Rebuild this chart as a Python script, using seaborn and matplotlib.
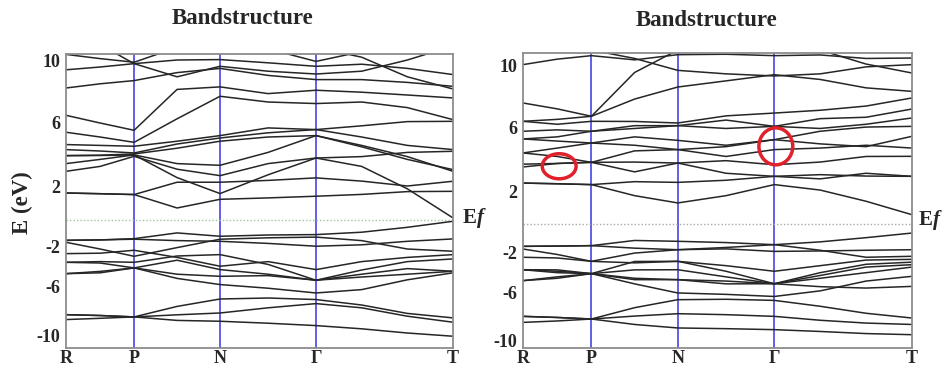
import pandas as pd
import matplotlib
matplotlib.use('Agg')
import matplotlib.pyplot as plt
import seaborn as sns
from matplotlib.patches import Ellipse

# high-symmetry path
k_labels = ['R', 'P', 'N', 'Γ', 'T']
k_nodes = [0.0, 0.176, 0.398, 0.646, 1.0]
k_samples = [0.0, 0.088, 0.176, 0.287, 0.398, 0.522, 0.646, 0.764, 0.882, 1.0]

tick_labels = ['10', '6', '2', '-2', '-6', '-10']
left_ticks = [11.36, 6.95, 2.33, -1.90, -4.76, -8.29]
right_ticks = [11.31, 6.88, 2.31, -2.05, -4.95, -8.33]

# band energies (eV, Ef = 0) read at k_samples
left_cond = [
    [11.80, 11.50, 11.24, 12.30, 12.60, 12.20, 11.30, 12.00, 12.60, 12.90],
    [10.70, 10.90, 11.14, 11.40, 11.43, 11.20, 10.95, 11.10, 10.80, 10.36],
    [9.40, 9.70, 9.93, 10.50, 10.80, 10.30, 10.00, 10.00, 9.80, 9.52],
    [12.60, 12.60, 12.50, 12.60, 12.40, 12.20, 12.30, 11.60, 10.20, 9.33],
    [12.60, 12.50, 11.14, 10.20, 10.95, 10.60, 10.40, 10.60, 11.40, 12.40],
    [7.45, 6.90, 6.38, 9.30, 9.48, 9.00, 9.24, 9.10, 8.90, 8.69],
    [6.24, 5.90, 5.52, 7.20, 8.81, 8.40, 8.29, 8.40, 8.00, 7.14],
    [5.36, 5.30, 5.24, 5.60, 6.00, 6.55, 6.43, 6.70, 7.00, 7.02],
    [5.00, 4.90, 4.76, 5.40, 5.83, 6.20, 6.43, 5.90, 5.30, 5.00],
    [4.57, 4.60, 4.69, 5.10, 5.60, 5.90, 6.00, 5.20, 4.30, 3.57],
    [4.00, 4.30, 4.62, 4.00, 3.88, 4.80, 6.00, 5.30, 4.50, 3.45],
    [3.45, 3.80, 4.52, 3.60, 3.14, 4.00, 4.40, 4.50, 4.80, 4.88],
    [1.90, 1.85, 1.79, 2.67, 2.67, 2.80, 2.98, 2.75, 2.40, 2.74],
    [1.90, 1.85, 1.79, 0.83, 1.45, 1.55, 1.67, 1.80, 2.00, 2.02],
    [4.57, 4.58, 4.62, 3.00, 1.86, 3.20, 4.40, 3.80, 2.20, 0.12],
]
left_val = [
    [-1.48, -1.45, -1.36, -0.95, -1.19, -1.10, -1.07, -0.90, -0.55, -0.12],
    [-1.48, -1.45, -1.40, -1.50, -1.55, -1.70, -1.90, -1.80, -1.55, -1.38],
    [-1.62, -2.10, -2.62, -2.00, -1.40, -1.30, -1.25, -1.50, -2.10, -2.26],
    [-2.43, -2.40, -2.19, -2.70, -3.33, -3.00, -3.57, -3.00, -2.70, -2.50],
    [-3.05, -3.00, -3.05, -2.60, -2.50, -3.20, -4.33, -3.60, -3.00, -2.81],
    [-3.05, -3.10, -3.45, -2.90, -3.57, -3.90, -4.33, -3.90, -3.50, -3.69],
    [-3.86, -3.70, -3.45, -3.90, -4.05, -4.00, -4.33, -4.10, -3.90, -3.69],
    [-3.86, -3.80, -3.45, -4.20, -4.64, -4.90, -5.24, -5.00, -4.30, -3.80],
    [-6.79, -6.85, -6.95, -6.20, -5.67, -5.60, -5.71, -6.10, -6.70, -7.02],
    [-6.79, -6.85, -6.95, -6.80, -6.67, -6.30, -6.00, -6.30, -6.90, -7.33],
    [-7.14, -7.05, -6.95, -7.20, -7.26, -7.40, -7.57, -7.80, -8.10, -8.33],
]
right_cond = [
    [11.36, 11.75, 12.00, 11.70, 12.07, 12.10, 12.00, 12.05, 11.80, 11.83],
    [12.50, 12.50, 12.40, 11.80, 10.95, 10.70, 10.55, 10.70, 11.20, 11.36],
    [8.62, 8.20, 7.67, 8.90, 9.76, 10.20, 10.64, 10.30, 9.70, 9.45],
    [7.31, 7.45, 7.67, 10.80, 12.40, 12.50, 12.50, 12.40, 11.40, 10.76],
    [7.31, 7.10, 7.31, 7.30, 7.19, 7.70, 7.90, 8.10, 8.40, 8.98],
    [6.60, 6.70, 6.60, 7.00, 7.00, 7.40, 6.95, 7.50, 7.60, 8.19],
    [6.05, 6.20, 6.60, 6.80, 7.00, 6.80, 6.95, 6.80, 7.10, 7.55],
    [5.05, 5.40, 5.76, 6.20, 5.95, 5.60, 6.00, 6.60, 6.90, 6.95],
    [6.05, 5.90, 5.76, 5.60, 5.29, 5.50, 6.00, 5.70, 5.50, 6.24],
    [4.05, 4.30, 4.38, 5.20, 5.29, 4.80, 5.29, 5.40, 5.60, 5.40],
    [4.25, 4.30, 4.38, 4.40, 4.33, 4.50, 4.21, 4.40, 4.80, 4.81],
    [5.05, 4.80, 4.38, 3.70, 4.33, 3.60, 3.38, 3.20, 3.60, 3.38],
    [2.90, 2.85, 2.79, 3.00, 2.95, 3.10, 3.38, 3.50, 3.40, 3.38],
    [2.90, 2.85, 2.79, 2.00, 1.48, 2.00, 2.79, 2.40, 1.60, 0.64],
]
right_val = [
    [-1.62, -1.60, -1.57, -1.20, -1.26, -1.35, -1.50, -1.30, -1.00, -0.67],
    [-1.62, -1.60, -1.57, -1.75, -1.86, -1.80, -1.98, -1.95, -1.90, -1.86],
    [-1.81, -2.20, -2.69, -2.10, -1.86, -1.70, -1.50, -1.90, -2.40, -2.33],
    [-2.40, -2.45, -2.69, -2.80, -2.69, -3.00, -3.40, -3.00, -2.60, -2.55],
    [-3.29, -3.30, -3.57, -2.70, -2.69, -3.40, -4.29, -3.50, -2.90, -2.75],
    [-3.29, -3.40, -3.57, -3.30, -3.29, -3.80, -4.29, -3.70, -3.10, -2.93],
    [-4.07, -3.80, -3.57, -3.90, -4.00, -4.10, -4.29, -3.90, -3.50, -3.10],
    [-4.07, -3.90, -3.57, -4.30, -4.95, -5.05, -5.20, -4.80, -4.10, -3.76],
    [-3.29, -3.50, -3.57, -4.00, -4.00, -4.30, -4.29, -4.50, -4.60, -4.48],
    [-6.62, -6.70, -6.81, -6.00, -5.43, -5.40, -5.48, -5.90, -6.40, -6.74],
    [-6.62, -6.70, -6.81, -6.60, -6.43, -6.50, -6.62, -6.90, -7.10, -7.20],
    [-7.05, -6.95, -6.81, -7.20, -7.45, -7.50, -7.57, -7.70, -7.85, -7.93],
]

# red marks on the right panel
ell_x = [0.093, 0.650]
ell_y = [4.10, 5.52]
ell_w = [0.087, 0.087]
ell_h = [1.79, 2.64]


def to_frame(bands):
    rows = []
    for i, b in enumerate(bands):
        for k, e in zip(k_samples, b):
            rows.append((i, k, e))
    return pd.DataFrame(rows, columns=['band', 'k', 'E'])


sns.set_style('white')
plt.rcParams['font.family'] = ['Liberation Serif', 'DejaVu Serif']
plt.rcParams['font.weight'] = 'bold'

fig = plt.figure(figsize=(9.43, 3.66), dpi=100)
ax1 = fig.add_axes([0.0700, 0.0492, 0.4104, 0.8033])
ax2 = fig.add_axes([0.5546, 0.0492, 0.4125, 0.8060])


def panel(ax, bands, ticks, ylim, ef_color):
    df = to_frame(bands)
    for x in k_nodes[1:-1]:
        ax.axvline(x, color='#4646e6', lw=1.2, zorder=1)
    ax.axhline(0, color=ef_color, lw=1.0, ls=(0, (1, 1.5)), zorder=1)
    sns.lineplot(data=df, x='k', y='E', units='band', estimator=None, sort=False,
                 color='#262626', linewidth=1.1, ax=ax, legend=False, zorder=2)
    ax.set_xlim(0, 1)
    ax.set_ylim(*ylim)
    ax.set_xlabel('')
    ax.set_ylabel('')
    ax.set_xticks(k_nodes)
    ax.set_xticklabels(k_labels, fontsize=13, fontweight='bold')
    ax.set_yticks(ticks)
    ax.set_yticklabels(tick_labels, fontsize=13, fontweight='bold')
    ax.tick_params(axis='y', direction='in', length=3, color='#b0b0b0', pad=4)
    ax.tick_params(axis='x', length=0, pad=1.5)
    for s in ax.spines.values():
        s.set_color('#8c8c8c')
        s.set_linewidth(1.3)


panel(ax1, left_cond + left_val, left_ticks, (-9.17, 11.83), '#9cc89c')
panel(ax2, right_cond + right_val, right_ticks, (-8.88, 12.19), '#a8a8a8')

for x, y, w, h in zip(ell_x, ell_y, ell_w, ell_h):
    ax2.add_patch(Ellipse((x, y), w, h, fill=False, edgecolor='#e0202a', lw=2.5, zorder=3))

fig.text(243 / 943, 1 - 19 / 366, 'Bandstructure', ha='center', va='center', fontsize=16.5, fontweight='bold')
fig.text(707 / 943, 1 - 20 / 366, 'Bandstructure', ha='center', va='center', fontsize=16.5, fontweight='bold')
fig.text(22 / 943, 1 - 203 / 366, 'E (eV)', rotation=90, ha='center', va='center', fontsize=16.5, fontweight='bold')

for ex, ey in [(463, 218), (919, 220)]:
    fig.text(ex / 943, 1 - ey / 366, 'E', ha='left', va='center', fontsize=15, fontweight='bold')
    fig.text((ex + 14) / 943, 1 - ey / 366, 'f', ha='left', va='center', fontsize=15,
             fontweight='bold', fontstyle='italic')

fig.savefig('out.png', dpi=100)
